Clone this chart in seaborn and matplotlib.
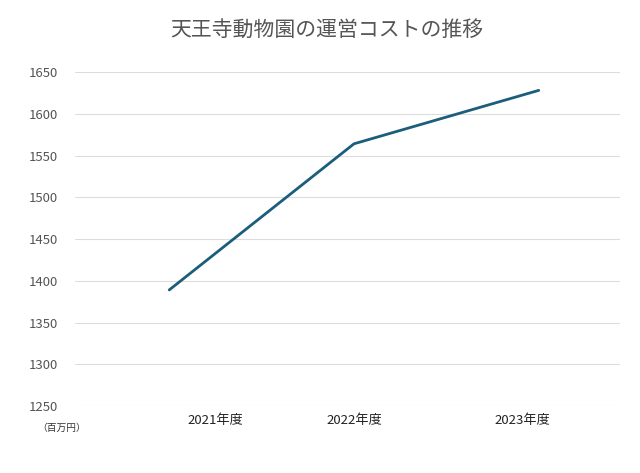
import matplotlib
matplotlib.use("Agg")
import matplotlib.pyplot as plt
import seaborn as sns
import pandas as pd

# Data
years = ["2021年度", "2022年度", "2023年度"]
costs = [1389, 1564, 1628]

df = pd.DataFrame({"year": range(len(years)), "cost": costs})

sns.set_style("white")
plt.rcParams['font.family'] = ['Noto Sans CJK JP', 'DejaVu Sans']

fig = plt.figure(figsize=(6.4, 4.73), dpi=100)
ax = fig.add_axes([75/640, 1 - 406/473, 545/640, 334/473])

sns.lineplot(data=df, x="year", y="cost", color="#1b5e7b", linewidth=2, ax=ax)

ax.set_xlim(-0.51, 2.44)
ax.set_ylim(1250, 1650)
ax.set_yticks(range(1250, 1651, 50))
# labels sit offset from the points in the original
ax.set_xticks([0.25, 1, 1.91])
ax.set_xticklabels(years, fontsize=9.5, color="#222222")
ax.tick_params(axis="y", labelsize=9.5, labelcolor="#555555", length=0, pad=12)
ax.tick_params(axis="x", length=0, pad=6)
ax.grid(axis="y", color="#dddddd", linewidth=0.8)
for s in ax.spines.values():
    s.set_visible(False)
ax.set_xlabel("")
ax.set_ylabel("")

fig.text(327/640, 1 - 30/473, "天王寺動物園の運営コストの推移", ha="center", va="center",
         fontsize=15, color="#555555")
fig.text(37/640, 1 - 428/473, "（百万円）", ha="left", va="center", fontsize=7, color="#333333")

fig.savefig("out.png", dpi=100)
